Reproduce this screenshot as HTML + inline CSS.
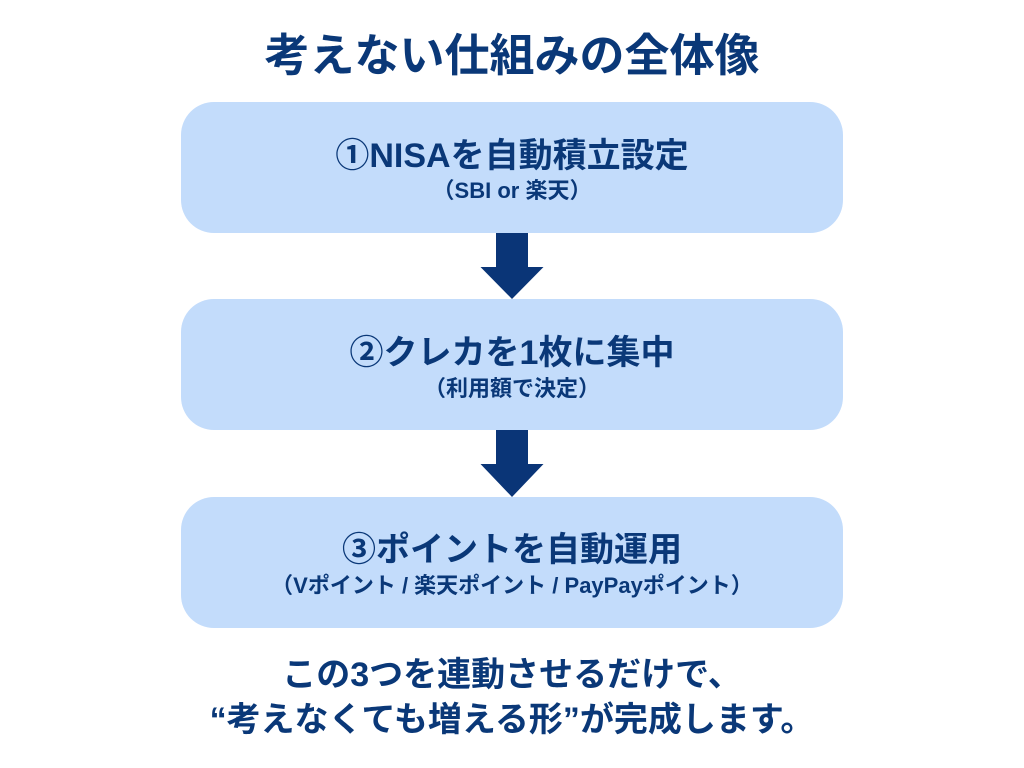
<!DOCTYPE html>
<html>
<head>
<meta charset="utf-8">
<style>
  html, body { margin:0; padding:0; background:#ffffff; }
  body { width:1024px; height:768px; position:relative; overflow:hidden;
         font-family:"Liberation Sans","Noto Sans CJK JP",sans-serif; color:#0a3878; }
  .t { position:absolute; left:0; width:1024px; text-align:center; white-space:nowrap; font-weight:bold; line-height:1; }
  .box { position:absolute; left:181px; width:662px; height:131px; background:#c3dcfb; border-radius:33px; }
  .main { font-size:34px; }
  .sub { font-size:22px; }
</style>
</head>
<body>
  <div class="t" style="top:33px;font-size:45px;">考えない仕組みの全体像</div>

  <div class="box" style="top:102px;"></div>
  <div class="box" style="top:299px;"></div>
  <div class="box" style="top:497px;height:131px;"></div>

  <svg width="1024" height="768" style="position:absolute;left:0;top:0;">
    <polygon fill="#0a3577" points="496,233 528,233 528,267 543.5,267 512,299 480.5,267 496,267"/>
    <polygon fill="#0a3577" points="496,430 528,430 528,464 543.5,464 512,497 480.5,464 496,464"/>
  </svg>

  <div class="t main" style="top:139px;">①NISAを自動積立設定</div>
  <div class="t sub" style="top:180px;">（SBI or 楽天）</div>

  <div class="t main" style="top:336px;">②クレカを1枚に集中</div>
  <div class="t sub" style="top:378px;">（利用額で決定）</div>

  <div class="t main" style="top:533px;">③ポイントを自動運用</div>
  <div class="t sub" style="top:575px;">（Vポイント / 楽天ポイント / PayPayポイント）</div>

  <div class="t" style="top:658px;font-size:34px;">この3つを連動させるだけで、</div>
  <div class="t" style="top:703px;font-size:34px;">“考えなくても増える形”が完成します。</div>
</body>
</html>
